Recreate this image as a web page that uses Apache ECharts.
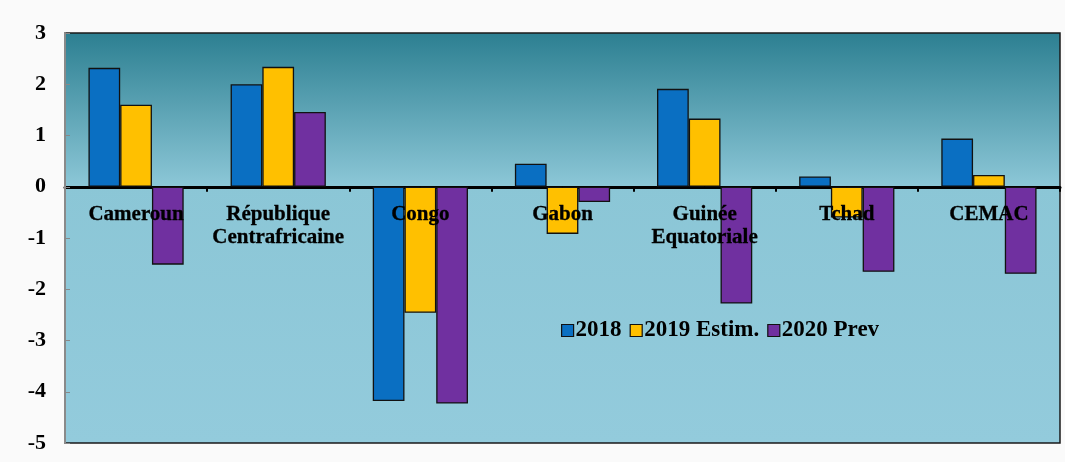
<!DOCTYPE html>
<html><head><meta charset="utf-8">
<script src="https://cdn.jsdelivr.net/npm/echarts@6/dist/echarts.min.js"></script>
<style>html,body{margin:0;padding:0;background:#fafafa;}#c{width:1065px;height:462px;}</style>
</head><body><div id="c"></div>
<script>
const categories = ['Cameroun', 'République\nCentrafricaine', 'Congo', 'Gabon', 'Guinée\nEquatoriale', 'Tchad', 'CEMAC'];
const s2018 = [2.32, 2.0, -4.18, 0.45, 1.91, 0.2, 0.94];
const s2019 = [1.6, 2.34, -2.46, -0.92, 1.33, -0.6, 0.23];
const s2020 = [-1.52, 1.46, -4.23, -0.3, -2.28, -1.66, -1.7];
const yTicks = [-5, -4, -3, -2, -1, 0, 1, 2, 3];

const font = '"Liberation Serif", "DejaVu Serif", serif';
const chart = echarts.init(document.getElementById('c'));
const barStyle = c => ({ color: c, borderColor: '#111', borderWidth: 1.3 });
chart.setOption({
  backgroundColor: '#fafafa',
  animation: false,
  grid: {
    left: 65, right: 5, top: 33, bottom: 19, show: true,
    containLabel: false, outerBoundsMode: 'none',
    borderColor: '#1a1a1a', borderWidth: 1.5,
    backgroundColor: new echarts.graphic.LinearGradient(0, 0, 0, 1, [
      { offset: 0, color: '#2c7f91' },
      { offset: 0.37, color: '#8bc6d6' },
      { offset: 1, color: '#93cbdc' }
    ])
  },
  legend: {
    left: 556, top: 314, itemWidth: 12, itemHeight: 12, itemGap: 8,
    icon: 'rect',
    textStyle: { fontFamily: font, fontWeight: 'bold', fontSize: 23, color: '#000', padding: [0, 0, 0, -3] },
    itemStyle: { borderColor: '#111', borderWidth: 1.2 },
    data: ['2018', '2019 Estim.', '2020 Prev']
  },
  xAxis: {
    type: 'category', data: categories,
    axisLine: { onZero: true, lineStyle: { color: '#000', width: 3 } },
    axisTick: { show: true, length: 5, lineStyle: { color: '#000', width: 2 } },
    axisLabel: { show: false }
  },
  yAxis: {
    type: 'value', min: -5, max: 3, interval: 1, z: 5,
    axisLine: { show: true, lineStyle: { color: '#8a8a8a', width: 2 } },
    axisTick: { show: true, inside: true, length: 5, lineStyle: { color: '#888' } },
    splitLine: { show: false },
    axisLabel: { margin: 19, fontFamily: font, fontWeight: 'bold', fontSize: 22, color: '#000',
      formatter: v => yTicks.includes(v) ? String(v) : '' }
  },
  series: [
    { name: '2018', type: 'bar', data: s2018, barGap: '0%', barCategoryGap: '33%', itemStyle: barStyle('#0a6fc2') },
    { name: '2019 Estim.', type: 'bar', data: s2019, itemStyle: barStyle('#ffc000') },
    { name: '2020 Prev', type: 'bar', data: s2020, itemStyle: barStyle('#7030a0') },
    { name: 'labels', type: 'scatter', data: categories.map(() => 0), symbolSize: 1, z: 20,
      itemStyle: { color: '#000', opacity: 1 }, silent: true,
      label: { show: true, position: 'bottom', distance: 16, formatter: p => categories[p.dataIndex],
        fontFamily: font, fontWeight: 'bold', fontSize: 21, lineHeight: 23, color: '#000', opacity: 1,
        textBorderColor: '#000', textBorderWidth: 0.3, align: 'center' } }
  ]
});
</script></body></html>
